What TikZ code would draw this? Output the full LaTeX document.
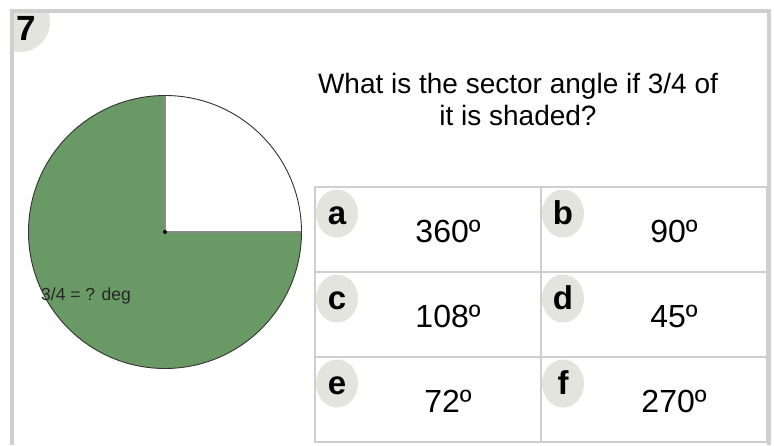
\documentclass[tikz,border=0pt]{standalone}
\usepackage{fontspec}
\setmainfont{Liberation Sans}
\definecolor{framegray}{HTML}{CFCFCF}
\definecolor{badgegray}{HTML}{E4E4DE}
\definecolor{piegreen}{HTML}{699A65}
\definecolor{edgegray}{HTML}{8A8A8A}
\begin{document}
\begin{tikzpicture}[x=1pt,y=-1pt,
  cellbox/.style={draw=framegray,line width=2pt},
  badge/.style={fill=badgegray},
  letter/.style={font=\bfseries\fontsize{33pt}{36pt}\selectfont,anchor=base,inner sep=0pt},
  answer/.style={font=\fontsize{32pt}{35pt}\selectfont,anchor=base,inner sep=0pt},
  qtext/.style={font=\fontsize{28pt}{32pt}\selectfont,anchor=base,inner sep=0pt}]
\useasboundingbox (0,0) rectangle (774,445);
\fill[white] (0,0) rectangle (774,445);
% number badge
\begin{scope}
  \clip (14,13) rectangle (767,445);
  \fill[badgegray] (20,22) circle[radius=30pt];
\end{scope}
\node[letter,font=\bfseries\fontsize{35pt}{38pt}\selectfont] (num) at (26.5,40) {7};
% frame
\draw[framegray,line width=4pt] (12,445) -- (12,11) -- (769,11) -- (769,445);
% pie
\coordinate (pc) at (165,232);
\fill[piegreen] (pc) circle[radius=136.5pt];
\fill[white] (pc) -- (301.5,232) arc[start angle=0,end angle=90,radius=136.5pt] -- cycle;
\draw[edgegray,line width=1.2pt] (301.5,232) -- (pc) -- (165,95.5);
\draw[black!80,line width=0.9pt] (pc) circle[radius=136.5pt];
\fill[black] (pc) circle[radius=2pt];
\node[font=\fontsize{17.5pt}{20pt}\selectfont,anchor=base west,inner sep=0pt,text=black!85] (lbl) at (41,300) {3/4 = ? deg};
% question
\node[qtext] (q1) at (518,93) {What is the sector angle if 3/4 of};
\node[qtext] (q2) at (518,125) {it is shaded?};
% cells
\foreach \cx/\cy/\L/\A/\nm in {315/187/a/360º/a, 541/187/b/90º/b, 315/272/c/108º/c, 541/272/d/45º/d, 315/357/e/72º/e, 541/357/f/270º/f}{
  \draw[cellbox] (\cx,\cy) rectangle ++(226,85);
  \begin{scope}
    \clip (\cx+1,\cy+1) rectangle ++(224,83);
    \fill[badge] (\cx+22,\cy+26.5) ellipse[x radius=21pt,y radius=24pt];
  \end{scope}
  \node[letter] (l\nm) at (\cx+22,\cy+37) {\L};
  \node[answer] (t\nm) at (\cx+133,\cy+55) {\A};
}
\end{tikzpicture}
\end{document}
